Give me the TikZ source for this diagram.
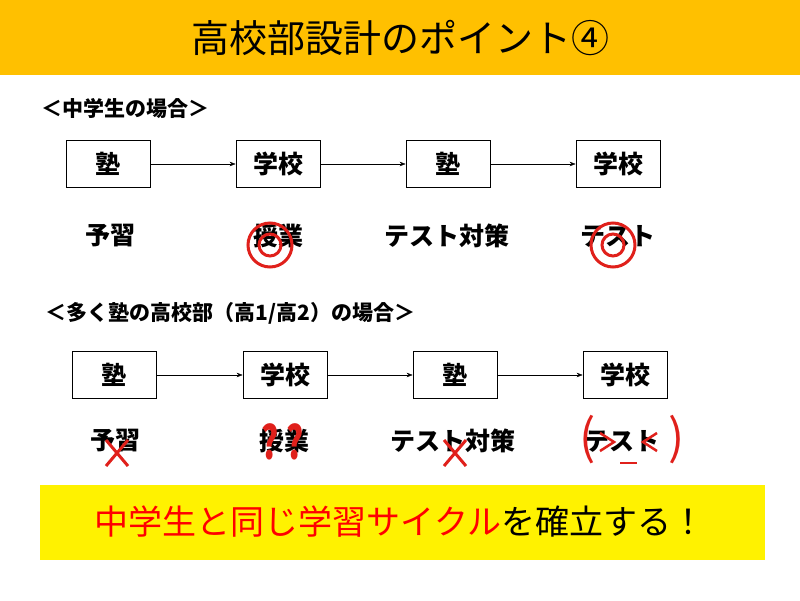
\documentclass[tikz,border=0pt]{standalone}
\usepackage{fontspec}
\setmainfont{Noto Sans CJK JP}
\usetikzlibrary{arrows.meta}
\definecolor{bandorange}{HTML}{FFC000}
\definecolor{markred}{HTML}{E0201B}
\tikzset{
  stepbox/.style={draw,thick,minimum width=84pt,minimum height=47pt,font=\fontsize{25}{25}\selectfont\bfseries},
  steplabel/.style={font=\fontsize{25}{25}\selectfont\bfseries},
  flow/.style={-{Stealth[length=6pt]},thin},
  ring/.style={draw=markred,line width=3pt},
  cross/.style={draw=markred,line width=3pt},
  query/.style={text=markred,font=\fontsize{46}{46}\selectfont\bfseries,xscale=0.7}
}
\begin{document}
\begin{tikzpicture}[x=1pt,y=-1pt]
\useasboundingbox (0,0) rectangle (800,600);
\fill[white] (0,0) rectangle (800,600);
\fill[bandorange] (0,0) rectangle (800,75);
\node (title) at (400,38) {\fontsize{38}{38}\selectfont 高校部設計のポイント④};
% case 1
\node[anchor=west,font=\fontsize{21}{21}\selectfont\bfseries] (case1) at (38,108) {＜中学生の場合＞};
\node[stepbox] (a1) at (108,164) {塾};
\node[stepbox] (a2) at (278,164) {学校};
\node[stepbox] (a3) at (448,164) {塾};
\node[stepbox] (a4) at (618,164) {学校};
\draw[flow] (a1) -- (a2);
\draw[flow] (a2) -- (a3);
\draw[flow] (a3) -- (a4);
\node[steplabel] (l1) at (110,236) {予習};
\node[steplabel] (l2) at (278,236) {授業};
\node[steplabel] (l3) at (447,236) {テスト対策};
\node[steplabel] (l4) at (618,236) {テスト};
\draw[ring] (270,245) circle (22) (270,245) circle (11);
\draw[ring] (613,245) circle (22) (613,245) circle (11);
% case 2
\node[anchor=west,font=\fontsize{21}{21}\selectfont\bfseries] (case2) at (42,313) {＜多く塾の高校部（高1/高2）の場合＞};
\node[stepbox] (b1) at (114,375) {塾};
\node[stepbox] (b2) at (285,375) {学校};
\node[stepbox] (b3) at (455,375) {塾};
\node[stepbox] (b4) at (625,375) {学校};
\draw[flow] (b1) -- (b2);
\draw[flow] (b2) -- (b3);
\draw[flow] (b3) -- (b4);
\node[steplabel] (m1) at (115,441) {予習};
\node[steplabel] (m2) at (284,441) {授業};
\node[steplabel] (m3) at (453,441) {テスト対策};
\node[steplabel] (m4) at (622,441) {テスト};
\draw[cross] (106,440) -- (128,466) (128,440) -- (106,466);
\draw[cross] (444,440) -- (466,466) (466,440) -- (444,466);
\node[query] (q1) at (270,442) {?};
\node[query] (q2) at (295,442) {?};
\node[text=markred,font=\fontsize{48}{48}\selectfont] (p1) at (588,440) {(};
\node[text=markred,font=\fontsize{48}{48}\selectfont] (p2) at (677,440) {)};
\draw[cross,line width=2.5pt] (600,433) -- (614,442) -- (600,451);
\draw[cross,line width=2.5pt] (657,433) -- (643,442) -- (657,451);
\draw[cross,line width=2.5pt] (620,463) -- (637,463);
% summary
\fill[yellow] (40,485) rectangle (765,560);
\node (sum) at (400,522) {\fontsize{34}{34}\selectfont\textcolor{red}{中学生と同じ学習サイクル}を確立する！};
\end{tikzpicture}
\end{document}
